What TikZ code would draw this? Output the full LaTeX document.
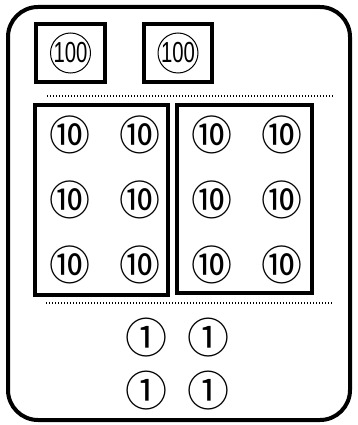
\documentclass[tikz,border=0pt]{standalone}
\usepackage{fontspec}
\setmainfont{Liberation Sans}
\newfontfamily\cjkfont{Noto Sans CJK JP}
\begin{document}
\begin{tikzpicture}[x=1pt,y=-1pt,
  frame/.style={draw=black,line width=4pt,rounded corners=30pt},
  group/.style={draw=black,line width=3.3pt},
  sep/.style={draw=black,line width=1.3pt,dash pattern=on 1.3pt off 1.7pt},
  hundred/.style={circle,draw=black,line width=1pt,minimum size=40pt,inner sep=0pt,font=\fontsize{29}{29}\selectfont},
  ten/.style={inner sep=0pt,font=\cjkfont\fontsize{41}{41}\selectfont},
  one/.style={inner sep=0pt,font=\cjkfont\fontsize{42}{42}\selectfont}]
\useasboundingbox (0,0) rectangle (358,425);
\draw[frame] (8,7) rectangle (350,420);
% top boxes
\node[group,minimum width=69pt,minimum height=58pt,inner sep=0pt] (b1) at (70.5,53) {};
\node[group,minimum width=68pt,minimum height=58pt,inner sep=0pt] (b2) at (178,53) {};
\node[hundred] (h1) at (b1.center) {\scalebox{0.7}[1]{100}};
\node[hundred] (h2) at (b2.center) {\scalebox{0.7}[1]{100}};
% separators
\coordinate (s1a) at (47,96); \coordinate (s1b) at (333,96);
\draw[sep] (s1a) -- (s1b);
\coordinate (s2a) at (46,303); \coordinate (s2b) at (332,303);
\draw[sep] (s2a) -- (s2b);
% ten groups
\node[group,minimum width=133pt,minimum height=190pt,inner sep=0pt] (g1) at (101.5,200) {};
\node[group,minimum width=135pt,minimum height=188pt,inner sep=0pt] (g2) at (244.5,199) {};
\foreach \r/\y in {1/135,2/200,3/265}{
  \node[ten] (t1\r) at (70,\y) {⑩};
  \node[ten] (t2\r) at (140,\y) {⑩};
  \node[ten] (t3\r) at (212,\y) {⑩};
  \node[ten] (t4\r) at (282,\y) {⑩};
}
% ones
\node[one] (o11) at (146,338) {①};
\node[one] (o12) at (208,338) {①};
\node[one] (o21) at (146,391) {①};
\node[one] (o22) at (208,391) {①};
\end{tikzpicture}
\end{document}
